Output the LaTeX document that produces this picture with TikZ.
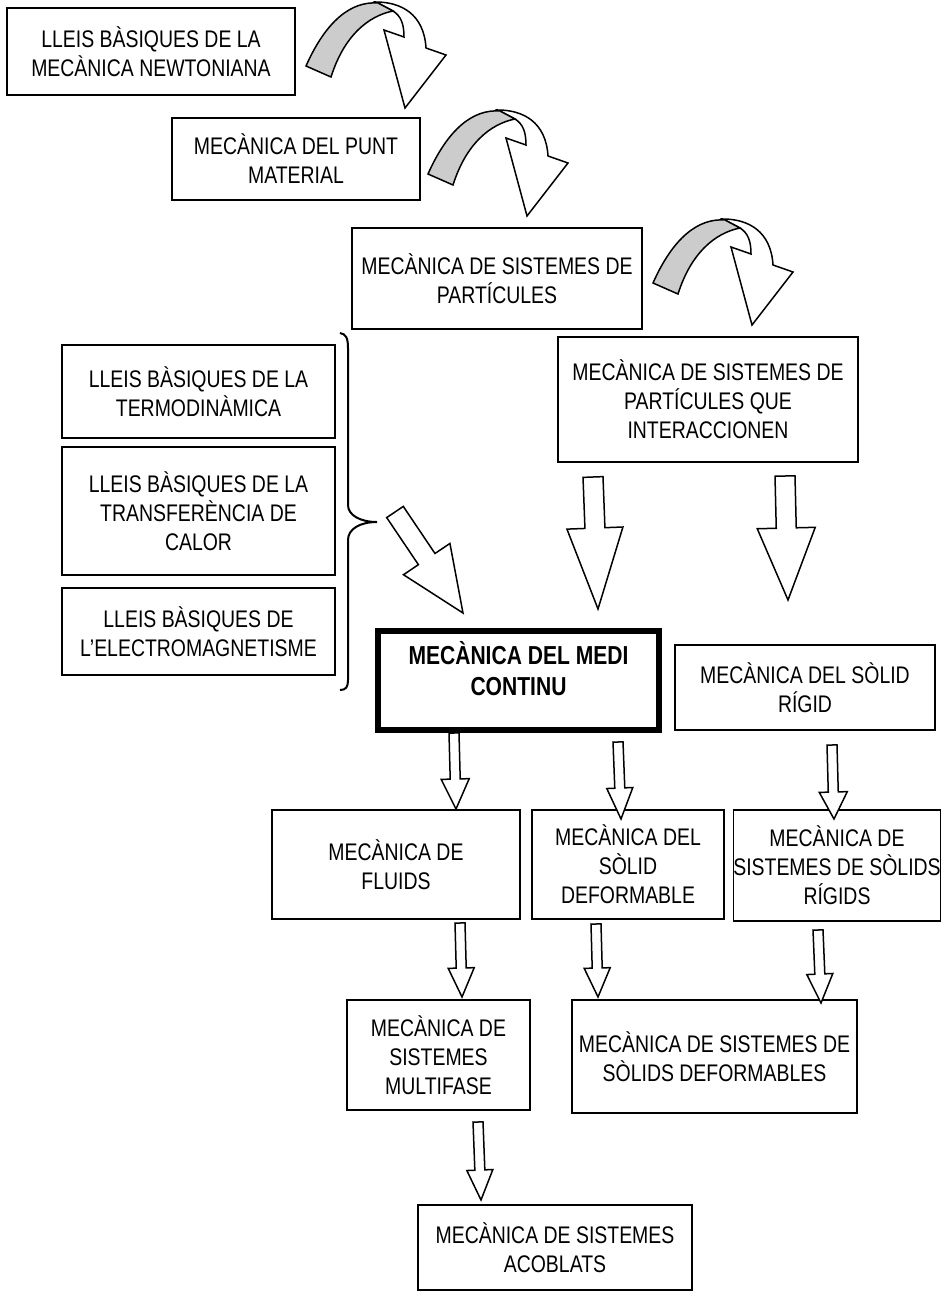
\documentclass[tikz,border=0pt]{standalone}
\usepackage{fontspec}
\setmainfont{Liberation Sans}[FakeStretch=0.81]
\usetikzlibrary{calc}
\definecolor{ribbongray}{gray}{0.8}

% block arrow: start, tip, half shaft width, half head width, head length
\newcommand{\blockarrow}[5]{%
  \path (#1) coordinate (ba0) (#2) coordinate (ba1);
  \path ($(ba1)!#5pt!(ba0)$) coordinate (bah);
  \draw[barrow] ($(ba0)!#3pt!90:(ba1)$) -- ($(bah)!#3pt!-90:(ba0)$) -- ($(bah)!#4pt!-90:(ba0)$) -- (ba1)
    -- ($(bah)!#4pt!90:(ba0)$) -- ($(bah)!#3pt!90:(ba0)$) -- ($(ba0)!#3pt!-90:(ba1)$) -- cycle;}

% curved arrow, origin at the lower end of the grey ribbon
\newcommand{\curvedarrow}[1]{%
  \begin{scope}[shift={#1}]
    \draw[ribbon, fill=white] (70,-64) .. controls (95,-64) and (118,-52) .. (120,-18) -- (140,-11) -- (99,42) -- (78,-36) -- (98,-29) .. controls (98,-42) and (95,-50) .. (87,-55) -- cycle;
    \draw[ribbon, fill=ribbongray] (0,0) .. controls (20,-45) and (45,-65) .. (72,-63) -- (87,-55) .. controls (62,-50) and (38,-30) .. (25,11) -- cycle;
  \end{scope}}

\begin{document}
\begin{tikzpicture}[x=1pt, y=-1pt,
  box/.style={draw, line width=1.4pt, align=center, inner sep=0pt, outer sep=0pt, font=\fontsize{24}{29}\selectfont},
  mainbox/.style={draw, line width=6pt, inner sep=0pt, outer sep=0pt},
  maintext/.style={align=center, inner sep=0pt, font=\fontsize{26}{31}\selectfont\bfseries},
  barrow/.style={draw, line width=1.5pt, fill=white, line join=miter},
  ribbon/.style={draw, line width=1.5pt, line join=miter},
  bracepath/.style={draw, line width=2pt}]
\useasboundingbox[fill=white] (0,0) rectangle (949,1296);

\node[box, minimum width=288pt, minimum height=87pt] (newton) at (151,51.5) {LLEIS BÀSIQUES DE LA\\MECÀNICA NEWTONIANA};
\node[box, minimum width=248pt, minimum height=82pt] (punt) at (296,159) {MECÀNICA DEL PUNT\\MATERIAL};
\node[box, minimum width=290pt, minimum height=101pt] (sist) at (497,278.5) {MECÀNICA DE SISTEMES DE\\PARTÍCULES};
\node[box, minimum width=300pt, minimum height=125pt] (inter) at (708,399.5) {MECÀNICA DE SISTEMES DE\\PARTÍCULES QUE\\INTERACCIONEN};

\node[box, minimum width=273pt, minimum height=93pt] (termo) at (198.5,391.5) {LLEIS BÀSIQUES DE LA\\TERMODINÀMICA};
\node[box, minimum width=273pt, minimum height=128pt] (calor) at (198.5,511) {LLEIS BÀSIQUES DE LA\\TRANSFERÈNCIA DE\\CALOR};
\node[box, minimum width=273pt, minimum height=87pt] (electro) at (198.5,631.5) {LLEIS BÀSIQUES DE\\L’ELECTROMAGNETISME};

\node[mainbox, minimum width=281pt, minimum height=99pt] (cont) at (518.5,680.5) {};
\node[maintext] (contT) at ($(cont.center)+(0,-12)$) {MECÀNICA DEL MEDI\\CONTINU};
\node[box, minimum width=260pt, minimum height=85pt] (rigid) at (805,687.5) {MECÀNICA DEL SÒLID\\RÍGID};

\node[box, minimum width=248pt, minimum height=109pt] (fluids) at (396,864.5) {MECÀNICA DE\\FLUIDS};
\node[box, minimum width=192pt, minimum height=109pt] (deform) at (628,864.5) {MECÀNICA DEL\\SÒLID\\DEFORMABLE};
\node[box, minimum width=202pt, minimum height=111pt] (rigids) at (837,865.5) {MECÀNICA DE\\SISTEMES DE SÒLIDS\\RÍGIDS};

\node[box, minimum width=183pt, minimum height=110pt] (multi) at (438.5,1055) {MECÀNICA DE\\SISTEMES\\MULTIFASE};
\node[box, minimum width=285pt, minimum height=113pt] (sdeform) at (714.5,1056.5) {MECÀNICA DE SISTEMES DE\\SÒLIDS DEFORMABLES};
\node[box, minimum width=274pt, minimum height=85pt] (acobl) at (555,1247.5) {MECÀNICA DE SISTEMES\\ACOBLATS};

% curved arrows
\curvedarrow{($(newton.north east)+(11,58)$)}
\curvedarrow{($(punt.north east)+(8,56)$)}
\curvedarrow{($(sist.north east)+(11,55)$)}

% brace
\draw[bracepath] (340,333) .. controls (346,334) and (348,338) .. (348,348) -- (348,505)
  .. controls (348,515) and (360,522) .. (377,522) .. controls (360,522) and (348,529) .. (348,540)
  -- (348,680) .. controls (348,687) and (346,690) .. (340,690);

% block arrows
\blockarrow{$(calor.east)+(60,1)$}{$(cont.north)+(-55.5,-18)$}{10}{28}{65}
\blockarrow{$(inter.south)+(-115,15)$}{$(cont.north)+(79.5,-22)$}{10}{28}{81}
\blockarrow{$(inter.south)+(77,14)$}{$(rigid.north)+(-17,-45)$}{10}{29}{72}
\blockarrow{$(cont.south)+(-64.5,3)$}{$(fluids.north)+(60,-1)$}{5}{14}{30}
\blockarrow{$(cont.south)+(99.5,12)$}{$(deform.north)+(-7,9)$}{5}{13}{31}
\blockarrow{$(rigid.south)+(27,15)$}{$(rigids.north)+(-3,9)$}{5}{14}{27}
\blockarrow{$(fluids.south)+(64,4)$}{$(multi.north)+(23.5,-3)$}{5}{13}{29}
\blockarrow{$(deform.south)+(-32,5)$}{$(sdeform.north)+(-116.5,-3)$}{5}{13}{29}
\blockarrow{$(rigids.south)+(-19,9)$}{$(sdeform.north)+(106.5,3)$}{5}{13}{29}
\blockarrow{$(multi.south)+(39.5,12)$}{$(acobl.north)+(-74,-5)$}{5}{13}{30}
\end{tikzpicture}
\end{document}
